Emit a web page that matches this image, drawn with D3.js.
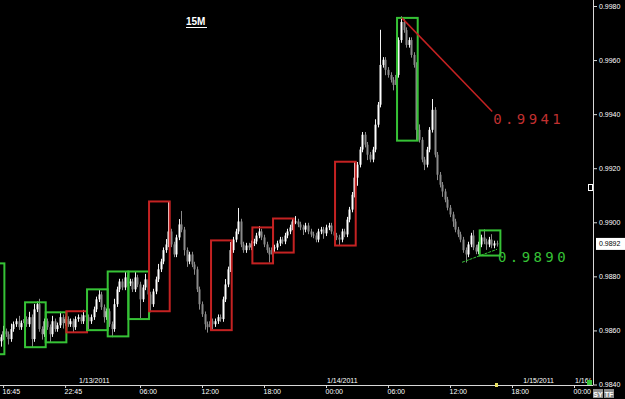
<!DOCTYPE html>
<html>
<head>
<meta charset="utf-8">
<script src="https://d3js.org/d3.v7.min.js"></script>
<style>
  body { margin: 0; background: #000; }
  svg { display: block; background: #000; }
  .axis text { fill: #fff; font-family: "Liberation Sans", Arial, sans-serif; font-size: 7px; }
  .axis path, .axis line { stroke: #d8d8d8; }
</style>
</head>
<body>
<script>
var width = 625, height = 399;
var parse = d3.timeParse("%Y-%m-%d %H:%M");

// 15M closes, first bar 1/12/2011 16:30, open of first bar below
var firstBar = "2011-01-12 16:30";
var firstOpen = 0.98560;
var closes = [
  0.98575, 0.98597,
  0.98586, 0.98568, 0.98605, 0.98623, 0.98634, 0.98612, 0.98627, 0.98642,
  0.98623, 0.98649, 0.98568, 0.98678, 0.98697, 0.98605, 0.98586, 0.98634,
  0.98612, 0.98586, 0.98634, 0.98605, 0.98619, 0.98649, 0.98627, 0.98642,
  0.98623, 0.98634, 0.98612, 0.98642, 0.98649, 0.98634, 0.98656, 0.98649,
  0.98634, 0.98649, 0.98678, 0.98715, 0.98733, 0.98686, 0.98649, 0.98671,
  0.98623, 0.98605, 0.98697, 0.98752, 0.98781, 0.98759, 0.98796, 0.98774,
  0.98781, 0.98752, 0.98796, 0.98770, 0.98715, 0.98759, 0.98789, 0.98733,
  0.98697, 0.98744, 0.98789, 0.98826, 0.98855, 0.98897, 0.98918, 0.98966,
  0.98918, 0.98881, 0.98944, 0.98992, 0.98973, 0.98897, 0.98855, 0.98881,
  0.98844, 0.98826, 0.98752, 0.98697, 0.98660, 0.98623, 0.98612, 0.98634,
  0.98623, 0.98634, 0.98649, 0.98642, 0.98715, 0.98770, 0.98826, 0.98897,
  0.98936, 0.98966, 0.99003, 0.98918, 0.98897, 0.98914, 0.98907, 0.98922,
  0.98929, 0.98951, 0.98966, 0.98944, 0.98918, 0.98897, 0.98881, 0.98907,
  0.98907, 0.98922, 0.98936, 0.98929, 0.98951, 0.98966, 0.98981, 0.99003,
  0.99003, 0.98992, 0.98981, 0.98973, 0.98988, 0.98966, 0.98955, 0.98951,
  0.98936, 0.98966, 0.98973, 0.98959, 0.98981, 0.98988, 0.98966, 0.98951,
  0.98944, 0.98936, 0.98966, 0.98955, 0.99010, 0.99047, 0.99102, 0.99165,
  0.99213, 0.99269, 0.99324, 0.99287, 0.99250, 0.99232, 0.99269, 0.99361,
  0.99435, 0.99582, 0.99601, 0.99564, 0.99545, 0.99527, 0.99508, 0.99545,
  0.99674, 0.99741, 0.99711, 0.99656, 0.99674, 0.99619, 0.99582, 0.99342,
  0.99305, 0.99232, 0.99213, 0.99269, 0.99342, 0.99416, 0.99250, 0.99176,
  0.99139, 0.99114, 0.99084, 0.99054, 0.99029, 0.99003, 0.98973, 0.98955,
  0.98936, 0.98897, 0.98881, 0.98918, 0.98951, 0.98907, 0.98892, 0.98918,
  0.98944, 0.98929, 0.98918, 0.98936, 0.98914, 0.98922, 0.98920
];
// wick above / below the body, in pips
var hiPips = [
  1,2,
  1,1,2,1,1,2,1,2,  1,2,1,2,1,2,1,1,  1,1,2,1,1,2,1,1,  1,1,1,1,1,1,2,1,
  1,1,1,1,2,1,1,1,  1,1,2,1,1,1,2,1,  1,1,2,1,1,1,2,1,  1,1,1,2,1,1,2,11,
  1,1,1,2,5,1,1,1,  1,1,1,1,1,1,1,1,  1,1,1,1,1,2,1,3,  1,1,5,1,1,1,1,1,
  1,1,2,1,1,1,1,1,  1,1,1,1,1,1,1,1,  2,1,1,1,1,1,1,1,  1,1,1,1,1,1,1,1,
  1,1,1,1,1,1,1,6,  1,1,1,1,1,1,1,2,  1,13,1,1,1,1,1,1, 1,2,1,1,1,1,1,1,
  2,1,1,1,1,4,1,1,  1,1,1,1,1,1,1,1,  1,1,1,1,1,2,1,1,  1,3,1,1,2,1,1
];
var loPips = [
  2,1,
  1,2,1,1,1,1,1,1,  1,1,3,1,1,1,2,1,  1,3,1,1,1,1,2,1,  1,1,2,1,1,1,1,1,
  3,1,1,1,1,1,2,1,  1,3,1,1,1,1,1,1,  1,1,1,1,7,1,1,1,  3,1,1,1,1,1,1,1,
  1,1,1,1,1,2,2,1,  1,2,1,2,1,2,2,1,  2,1,1,1,1,1,1,1,  1,1,1,1,1,1,1,1,
  1,1,1,1,1,1,3,1,  2,1,1,1,1,1,1,1,  1,1,1,2,1,1,1,1,  1,1,1,2,1,1,1,1,
  1,2,1,1,1,1,1,1,  3,1,1,1,2,1,1,1,  1,1,1,2,1,1,2,1,  1,1,1,1,1,1,1,4,
  1,1,2,1,1,1,1,2,  1,2,1,1,1,2,1,1,  1,1,3,1,1,1,1,1,  1,1,2,1,1,1,1
];

// 2 hour range boxes: start, end, top, bottom, colour
var boxes = [
  ["2011-01-12 15:00", "2011-01-12 17:00", 0.98848, 0.98512, "g"],
  ["2011-01-12 19:00", "2011-01-12 21:00", 0.98704, 0.98538, "g"],
  ["2011-01-12 21:00", "2011-01-12 23:00", 0.98667, 0.98556, "g"],
  ["2011-01-12 23:00", "2011-01-13 01:00", 0.98671, 0.98593, "r"],
  ["2011-01-13 01:00", "2011-01-13 03:00", 0.98752, 0.98601, "g"],
  ["2011-01-13 03:00", "2011-01-13 05:00", 0.98818, 0.98578, "g"],
  ["2011-01-13 05:00", "2011-01-13 07:00", 0.98818, 0.98642, "g"],
  ["2011-01-13 07:00", "2011-01-13 09:00", 0.99077, 0.98671, "r"],
  ["2011-01-13 13:00", "2011-01-13 15:00", 0.98933, 0.98601, "r"],
  ["2011-01-13 17:00", "2011-01-13 19:00", 0.98981, 0.98848, "r"],
  ["2011-01-13 19:00", "2011-01-13 21:00", 0.99014, 0.98888, "r"],
  ["2011-01-14 01:00", "2011-01-14 03:00", 0.99224, 0.98914, "r"],
  ["2011-01-14 07:00", "2011-01-14 09:00", 0.99756, 0.99302, "g"],
  ["2011-01-14 15:00", "2011-01-14 17:00", 0.98970, 0.98877, "g"]
];

var priceTicks = [0.9840, 0.9860, 0.9880, 0.9900, 0.9920, 0.9940, 0.9960, 0.9980];
var timeTicks = ["2011-01-12 16:45", "2011-01-12 22:45", "2011-01-13 06:00", "2011-01-13 12:00",
  "2011-01-13 18:00", "2011-01-14 00:00", "2011-01-14 06:00", "2011-01-14 12:00",
  "2011-01-14 18:00", "2011-01-15 00:00"];
var dateLabels = ["1/13/2011", "1/14/2011", "1/15/2011", "1/16/"];
var dateLabelTimes = ["2011-01-13 00:00", "2011-01-14 00:00", "2011-01-14 19:00", "2011-01-15 00:00"];

var lastPrice = 0.9892;
var redLine = [["2011-01-14 07:20", 0.99756], ["2011-01-14 16:05", 0.9941]];
var greenLine = [["2011-01-14 13:10", 0.98852], ["2011-01-14 16:33", 0.98900]];
var redLabel = "0.9941", greenLabel = "0.9890";

var colours = { g: "#36c236", r: "#c42222" };

var svg = d3.select("body").append("svg")
  .attr("width", width).attr("height", height);

var x = d3.scaleTime()
  .domain([parse("2011-01-13 00:00"), parse("2011-01-14 00:00")])
  .range([78, 326]);
var y = d3.scaleLinear().domain([0.984, 0.998]).range([384.5, 6]);
var half = (x(parse("2011-01-13 00:15")) - x(parse("2011-01-13 00:00"))) / 2;

var t0 = parse(firstBar);
var bars = closes.map(function(c, i) {
  var o = i === 0 ? firstOpen : closes[i - 1];
  return {
    t: d3.timeMinute.offset(t0, 15 * i),
    o: o, c: c,
    h: Math.max(o, c) + hiPips[i] * 0.0001,
    l: Math.min(o, c) - loPips[i] * 0.0001
  };
});

var plot = svg.append("g");

var candle = plot.selectAll("g.candle").data(bars).enter().append("g").attr("class", "candle");
candle.append("line")
  .attr("x1", function(d) { return Math.round(x(d.t)) + 0.5; })
  .attr("x2", function(d) { return Math.round(x(d.t)) + 0.5; })
  .attr("y1", function(d) { return y(d.h); })
  .attr("y2", function(d) { return y(d.l); })
  .attr("stroke", function(d) { return d.c >= d.o ? "#f4f4f4" : "#8a8a8a"; })
  .attr("stroke-width", 1);
candle.append("rect")
  .attr("x", function(d) { return Math.round(x(d.t)) - 0.5; })
  .attr("width", 2)
  .attr("y", function(d) { return y(Math.max(d.o, d.c)); })
  .attr("height", function(d) { return Math.max(1, Math.abs(y(d.o) - y(d.c))); })
  .attr("fill", function(d) { return d.c >= d.o ? "#ffffff" : "#8a8a8a"; });

plot.selectAll("rect.box").data(boxes).enter().append("rect")
  .attr("class", "box")
  .attr("x", function(d) { return x(parse(d[0])) - half; })
  .attr("width", function(d) { return x(parse(d[1])) - x(parse(d[0])); })
  .attr("y", function(d) { return y(d[2]); })
  .attr("height", function(d) { return y(d[3]) - y(d[2]); })
  .attr("fill", "none")
  .attr("stroke", function(d) { return colours[d[4]]; })
  .attr("stroke-width", 2);

var lineGen = d3.line().x(function(d) { return x(parse(d[0])); }).y(function(d) { return y(d[1]); });
plot.append("path").datum(redLine).attr("d", lineGen)
  .attr("stroke", "#c42222").attr("stroke-width", 1.5).attr("fill", "none");
plot.append("path").datum(greenLine).attr("d", lineGen)
  .attr("stroke", "#36c236").attr("stroke-width", 1).attr("stroke-dasharray", "3,1").attr("fill", "none");

plot.append("text")
  .attr("x", x(parse(redLine[1][0])) + 1).attr("y", y(redLine[1][1]) + 13)
  .attr("fill", "#c03030").style("font-family", "DejaVu Sans Mono").style("font-size", "14px")
  .style("letter-spacing", "3.4px").text(redLabel);
plot.append("text")
  .attr("x", x(parse(greenLine[1][0])) + 1).attr("y", y(0.9890) + 12.5)
  .attr("fill", "#36c236").style("font-family", "DejaVu Sans Mono").style("font-size", "14px")
  .style("letter-spacing", "3.4px").text(greenLabel);

// title
svg.append("text").attr("x", 186).attr("y", 25)
  .attr("fill", "#fff").style("font-family", "Liberation Sans, Arial").style("font-size", "10px")
  .style("font-weight", "bold").text("15M");
svg.append("line").attr("x1", 186).attr("x2", 207).attr("y1", 27.5).attr("y2", 27.5)
  .attr("stroke", "#fff").attr("stroke-width", 1);

// right price axis
var yAxis = svg.append("g").attr("class", "axis").attr("transform", "translate(593,0)")
  .call(d3.axisRight(y).tickValues(priceTicks).tickFormat(d3.format(".4f")).tickSize(4).tickPadding(2).tickSizeOuter(0));
yAxis.select(".domain").attr("d", "M0.5,0V385");

// bottom time axis
var xAxis = svg.append("g").attr("class", "axis").attr("transform", "translate(0,385)")
  .call(d3.axisBottom(x).tickValues(timeTicks.map(parse)).tickFormat(d3.timeFormat("%H:%M")).tickSize(3).tickPadding(1).tickSizeOuter(0));
xAxis.select(".domain").attr("d", "M0,0.5H593");
xAxis.selectAll(".tick text").attr("text-anchor", "start").attr("x", -1);

svg.selectAll("text.date").data(dateLabels).enter().append("text")
  .attr("class", "date")
  .attr("x", function(d, i) { return x(parse(dateLabelTimes[i])) + 1; })
  .attr("y", 383)
  .attr("fill", "#fff").style("font-family", "Liberation Sans, Arial").style("font-size", "7px")
  .text(function(d) { return d; });

// last price tag
svg.append("rect").attr("x", 596).attr("y", y(lastPrice) - 6).attr("width", 29).attr("height", 12).attr("fill", "#fff");
svg.append("text").attr("x", 599).attr("y", y(lastPrice) + 2.5)
  .attr("fill", "#000").style("font-family", "Liberation Sans, Arial").style("font-size", "7px")
  .text(d3.format(".4f")(lastPrice));

// small markers
svg.append("rect").attr("x", 495).attr("y", 383).attr("width", 3).attr("height", 4).attr("fill", "#e8e060");
svg.append("rect").attr("x", 587).attr("y", 380).attr("width", 5).attr("height", 5).attr("fill", "#36c236");
svg.append("rect").attr("x", 588.5).attr("y", 184.5).attr("width", 4).attr("height", 6)
  .attr("fill", "none").attr("stroke", "#fff").attr("stroke-width", 1);

// SY / TF buttons
[["SY", 593], ["TF", 604]].forEach(function(b) {
  svg.append("rect").attr("x", b[1]).attr("y", 389).attr("width", 10).attr("height", 9).attr("fill", "#8c8c8c");
  svg.append("text").attr("x", b[1] + 5).attr("y", 396.5).attr("text-anchor", "middle")
    .attr("fill", "#fff").style("font-family", "Liberation Sans, Arial").style("font-size", "7px")
    .style("font-weight", "bold").text(b[0]);
});
</script>
</body>
</html>
